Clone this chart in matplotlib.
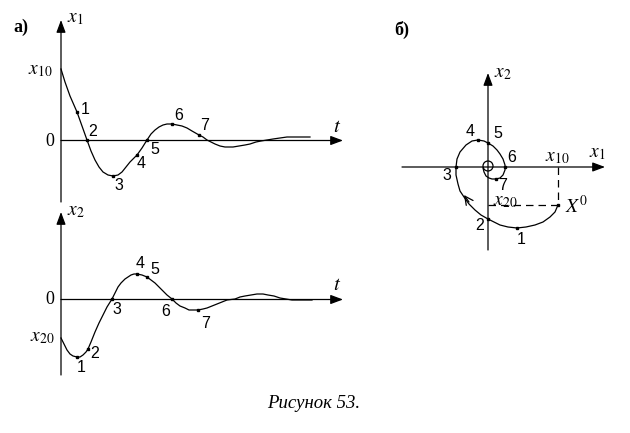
import matplotlib
matplotlib.use('Agg')
import matplotlib.pyplot as plt

plt.rcParams['mathtext.fontset'] = 'stix'
plt.rcParams['font.family'] = ['Liberation Serif', 'DejaVu Serif']

# ---- panel a), x1(t), picture coords in px ----
x1_t = [61, 65, 70, 77, 82, 87, 91, 95, 99, 103, 108, 113, 118, 122, 126, 130, 134, 137,
        142, 147, 151, 155, 159, 163, 167, 172, 177, 182, 187, 192, 199, 203, 207,
        211, 215, 220, 225, 229, 233, 239, 245, 250, 256, 261, 267, 273, 280, 287, 295, 303, 310]
x1_v = [69, 82, 96, 112, 126, 140, 151, 160, 167, 172, 175, 176, 175, 172, 167, 162, 158, 155,
        148, 140, 134, 130, 127, 125, 124, 124, 125, 126, 128, 131, 135, 137, 140,
        142, 144, 146, 147, 147, 147, 146, 145, 144, 142, 141, 140, 139, 138, 137, 137, 137, 137]
x1_marks = {'1': (77, 112), '2': (87, 140), '3': (113, 176), '4': (137, 155),
            '5': (147, 140), '6': (172, 124), '7': (199, 135)}
x1_lbl = {'1': (85, 110), '2': (93, 131), '3': (119, 186), '4': (141, 163),
          '5': (155, 150), '6': (179, 115), '7': (205, 125)}

# ---- panel a), x2(t) ----
x2_t = [61, 64, 67, 70, 73, 77, 80, 83, 86, 88, 91, 95, 99, 103, 107, 112, 115, 118, 121,
        125, 128, 131, 134, 137, 142, 147, 151, 155, 159, 163, 167, 172, 176, 180, 185,
        189, 193, 198, 203, 207, 212, 217, 222, 227, 235, 240, 245, 251, 257, 263, 268,
        274, 280, 286, 292, 298, 305, 312]
x2_v = [338, 344, 350, 354, 356, 357, 357, 355, 352, 349, 342, 332, 323, 315, 307, 299, 293, 287, 283,
        279, 277, 275, 274, 274, 275, 277, 280, 283, 287, 291, 295, 299, 303, 306, 308,
        310, 310, 310, 309, 308, 306, 304, 302, 300, 299, 297, 296, 295, 294, 294, 295,
        296, 298, 299, 300, 300, 300, 300]
x2_marks = {'1': (77, 357), '2': (88, 349), '3': (112, 299), '4': (137, 274),
            '5': (147, 277), '6': (172, 299), '7': (198, 310)}
x2_lbl = {'1': (81, 367), '2': (95, 353), '3': (117, 310), '4': (140, 264),
          '5': (155, 270), '6': (166, 311), '7': (206, 323)}

# ---- panel б), phase portrait ----
ph_x = [558, 555, 550, 543, 535, 526, 517, 508, 500, 494, 488, 481, 475, 469, 464, 460, 458,
        456, 456, 457, 460, 466, 472, 478, 484, 488, 493, 497, 500, 503, 505, 505, 503, 500,
        496, 492, 489, 486, 484, 483]
ph_y = [205, 212, 217, 222, 225, 227, 228, 227, 225, 222, 219, 215, 210, 204, 197, 191, 184,
        175, 167, 159, 152, 145, 141, 140, 141, 143, 146, 150, 154, 159, 165, 170, 175, 178,
        179, 179, 178, 176, 172, 168]
ph_marks = {'1': (517, 228), '2': (488, 219), '3': (456, 167), '4': (478, 140),
            '5': (488, 143), '6': (505, 167), '7': (496, 179)}
ph_lbl = {'1': (521, 240), '2': (480, 226), '3': (447, 175), '4': (470, 131),
          '5': (498, 134), '6': (512, 158), '7': (503, 186)}
X0 = (558, 205)

fig = plt.figure(figsize=(6.3, 4.33), dpi=100)
ax = fig.add_axes([0, 0, 1, 1])
ax.set_xlim(0, 630)
ax.set_ylim(433, 0)
ax.axis('off')

lw = 0.9
arr = dict(arrowstyle='-|>,head_length=0.75,head_width=0.28', color='black', lw=lw,
           shrinkA=0, shrinkB=0)


def axis_arrow(x0, y0, x1, y1):
    ax.annotate('', xy=(x1, y1), xytext=(x0, y0), arrowprops=arr)


def marks(d):
    for x, y in d.values():
        ax.plot(x, y, 's', ms=1.8, color='black')


def nums(d):
    for k, (x, y) in d.items():
        ax.text(x, y, k, fontsize=11.5, family='Liberation Sans', ha='center', va='center')


# top plot
axis_arrow(61, 202, 61, 20)
axis_arrow(61, 140.5, 343, 140.5)
ax.plot(x1_t, x1_v, color='black', lw=lw)
marks(x1_marks)
nums(x1_lbl)
ax.text(21, 27, 'a)', fontsize=13, weight='bold', ha='center', va='center')
ax.text(67, 18, '$x_1$', fontsize=14, ha='left', va='center')
ax.text(40, 70, '$x_{10}$', fontsize=14, ha='center', va='center')
ax.text(50, 141, '0', fontsize=13, ha='center', va='center')
ax.text(337, 127, '$t$', fontsize=15, ha='center', va='center')

# bottom plot
axis_arrow(61, 375, 61, 212)
axis_arrow(61, 299.5, 343, 299.5)
ax.plot(x2_t, x2_v, color='black', lw=lw)
marks(x2_marks)
nums(x2_lbl)
ax.text(67, 211, '$x_2$', fontsize=14, ha='left', va='center')
ax.text(42, 338, '$x_{20}$', fontsize=14, ha='center', va='center')
ax.text(50, 299, '0', fontsize=13, ha='center', va='center')
ax.text(337, 285, '$t$', fontsize=15, ha='center', va='center')

# phase portrait
axis_arrow(402, 167, 605, 167)
axis_arrow(488, 250, 488, 73)
ax.plot(ph_x, ph_y, color='black', lw=lw)
circ = plt.Circle((488, 166), 5, fill=False, color='black', lw=lw)
ax.add_patch(circ)
ax.plot([X0[0], X0[0]], [167, X0[1]], '--', color='black', lw=lw, dashes=(6, 4))
ax.plot([488, X0[0]], [X0[1], X0[1]], '--', color='black', lw=lw, dashes=(6, 4))
ax.plot(*X0, 's', ms=1.8, color='black')
ax.annotate('', xy=(464, 195), xytext=(469, 202),
            arrowprops=dict(arrowstyle='->,head_length=0.6,head_width=0.3', color='black', lw=lw,
                            shrinkA=0, shrinkB=0))
marks(ph_marks)
nums(ph_lbl)
ax.text(402, 30, 'б)', fontsize=13, weight='bold', ha='center', va='center')
ax.text(494, 73, '$x_2$', fontsize=14, ha='left', va='center')
ax.text(597, 153, '$x_1$', fontsize=14, ha='center', va='center')
ax.text(557, 157, '$x_{10}$', fontsize=14, ha='center', va='center')
ax.text(505, 202, '$x_{20}$', fontsize=14, ha='center', va='center')
ax.text(577, 206, '$X^0$', fontsize=14, ha='center', va='center')

ax.text(314, 404, 'Рисунок 53.', fontsize=13.5, style='italic', ha='center', va='center')

fig.savefig('out.png', dpi=100)
